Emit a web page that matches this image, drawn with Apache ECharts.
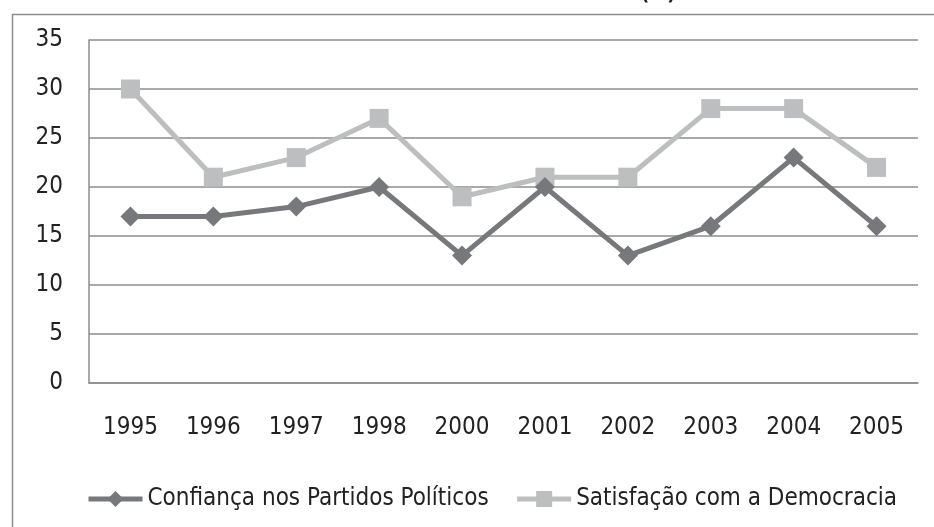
<!DOCTYPE html>
<html><head><meta charset="utf-8">
<script src="https://cdn.jsdelivr.net/npm/echarts@6/dist/echarts.min.js"></script>
<style>html,body{margin:0;padding:0;background:#fff}#c{width:934px;height:527px}</style>
</head><body><div id="c"></div>
<script>
const years = ['1995','1996','1997','1998','2000','2001','2002','2003','2004','2005'];
const confianca = [17,17,18,20,13,20,13,16,23,16];
const satisfacao = [30,21,23,27,19,21,21,28,28,22];
const yTicks = [0,5,10,15,20,25,30,35];
const FONT = '"DejaVu Sans Condensed","Liberation Sans Narrow",sans-serif';
const chart = echarts.init(document.getElementById('c'));
chart.setOption({
  animation:false,
  backgroundColor:'#fff',
  graphic:[
    {type:'rect',left:10,top:12,shape:{width:1000,height:1000},style:{fill:'none',stroke:'#8c8c8c',lineWidth:1.5},silent:true},
    {type:'text',left:641,top:-15,style:{text:'(%)',font:'bold 20px '+FONT,fill:'#222'}}
  ],
  grid:{left:89,right:16,top:40,bottom:144},
  legend:{
    top:482,left:81,itemGap:26,itemWidth:54,itemHeight:20,
    lineStyle:{width:5},
    textStyle:{fontFamily:FONT,fontSize:24,color:'#222',padding:[0,0,0,0]},
    data:['Confiança nos Partidos Políticos','Satisfação com a Democracia']
  },
  xAxis:{type:'category',data:years,boundaryGap:true,
    axisLine:{show:true,lineStyle:{color:'#8c8c8c',width:1.5}},axisTick:{show:false},
    axisLabel:{fontFamily:FONT,fontSize:24,color:'#222',margin:33}},
  yAxis:{type:'value',min:yTicks[0],max:yTicks[yTicks.length-1],interval:5,
    axisLine:{show:true,lineStyle:{color:'#8c8c8c',width:1.5}},axisTick:{show:false},
    splitLine:{lineStyle:{color:'#8c8c8c',width:1.5}},
    axisLabel:{fontFamily:FONT,fontSize:24,color:'#222',margin:26}},
  series:[
    {name:'Confiança nos Partidos Políticos',type:'line',data:confianca,symbol:'diamond',symbolSize:20,
      lineStyle:{color:'#77787b',width:5},itemStyle:{color:'#77787b'},z:3},
    {name:'Satisfação com a Democracia',type:'line',data:satisfacao,symbol:'rect',symbolSize:19,
      lineStyle:{color:'#bdbec0',width:5},itemStyle:{color:'#bdbec0'},z:2}
  ]
});
</script></body></html>
